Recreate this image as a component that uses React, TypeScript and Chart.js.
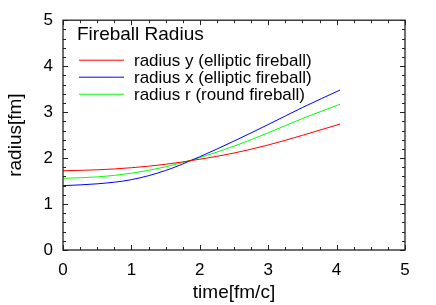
import React, { useEffect, useRef } from "react";
import { Chart, registerables } from "chart.js";

Chart.register(...registerables);

const times = [0, 0.5, 1, 1.5, 2, 2.5, 3, 3.5, 4.05];
const radiusY = [1.725, 1.745, 1.79, 1.865, 1.975, 2.11, 2.285, 2.495, 2.74];
const radiusX = [1.4, 1.44, 1.53, 1.73, 2.03, 2.37, 2.73, 3.1, 3.48];
const radiusR = [1.56, 1.59, 1.67, 1.81, 2.01, 2.26, 2.55, 2.86, 3.17];
const seriesLabels = [
  "radius y (elliptic fireball)",
  "radius x (elliptic fireball)",
  "radius r (round fireball)",
];
const seriesColors = ["#ff0000", "#0000ff", "#00ff00"];
const legendTitle = "Fireball Radius";
const xTitle = "time[fm/c]";
const yTitle = "radius[fm]";
const FONT = "'Liberation Sans', Arial, Helvetica, sans-serif";

const framePlugin = {
  id: "gnuFrame",
  afterDatasetsDraw(chart: any) {
    const { ctx, chartArea, scales } = chart;
    const { left, right, top, bottom } = chartArea;
    const xs = scales.x;
    const ys = scales.y;
    ctx.save();
    ctx.strokeStyle = "#222";
    ctx.lineWidth = 1;
    ctx.beginPath();
    for (let v = 0; v <= 5.0001; v += 0.25) {
      const px = Math.round(xs.getPixelForValue(v)) + 0.5;
      const major = Math.abs(v - Math.round(v)) < 1e-6;
      const len = major ? 5 : 3;
      ctx.moveTo(px, bottom);
      ctx.lineTo(px, bottom - len);
      ctx.moveTo(px, top);
      ctx.lineTo(px, top + len);
    }
    for (let v = 0; v <= 5.0001; v += 0.2) {
      const py = Math.round(ys.getPixelForValue(v)) + 0.5;
      const major = Math.abs(v - Math.round(v)) < 1e-6;
      const len = major ? 5 : 3;
      ctx.moveTo(left, py);
      ctx.lineTo(left + len, py);
      ctx.moveTo(right, py);
      ctx.lineTo(right - len, py);
    }
    ctx.stroke();
    ctx.lineWidth = 1.3;
    ctx.strokeRect(left, top, right - left, bottom - top);
    // legend
    ctx.fillStyle = "#000";
    ctx.textBaseline = "alphabetic";
    ctx.textAlign = "left";
    ctx.font = `19px ${FONT}`;
    ctx.fillText(legendTitle, left + 14, top + 20);
    ctx.font = `17px ${FONT}`;
    chart.data.datasets.forEach((ds: any, i: number) => {
      const y = top + 40 + i * 17;
      ctx.strokeStyle = ds.borderColor;
      ctx.lineWidth = 1;
      ctx.beginPath();
      ctx.moveTo(left + 16, y);
      ctx.lineTo(left + 61, y);
      ctx.stroke();
      ctx.fillText(ds.label, left + 71, y + 5.8);
    });
    ctx.restore();
  },
};

export default function App() {
  const ref = useRef<HTMLCanvasElement>(null);
  useEffect(() => {
    if (!ref.current) return;
    const series = [radiusY, radiusX, radiusR];
    const chart = new Chart(ref.current, {
      type: "line",
      data: {
        datasets: series.map((s, i) => ({
          label: seriesLabels[i],
          data: times.map((t, j) => ({ x: t, y: s[j] })),
          borderColor: seriesColors[i],
          backgroundColor: seriesColors[i],
          borderWidth: 1,
          pointRadius: 0,
          cubicInterpolationMode: "monotone" as const,
          fill: false,
        })),
      },
      plugins: [framePlugin],
      options: {
        animation: false,
        responsive: false,
        maintainAspectRatio: false,
        layout: { padding: { left: 0, right: 31, top: 20, bottom: 0 } },
        plugins: { legend: { display: false }, tooltip: { enabled: false } },
        scales: {
          x: {
            type: "linear",
            min: 0,
            max: 5,
            afterFit: (s: any) => {
              s.height = 55;
            },
            grid: { display: false, drawTicks: false },
            border: { display: false },
            ticks: {
              stepSize: 1,
              color: "#000",
              padding: 10,
              font: { family: FONT, size: 17 },
            },
            title: {
              display: true,
              text: xTitle,
              color: "#000",
              padding: { top: 0, bottom: 1 },
              font: { family: FONT, size: 19 },
            },
          },
          y: {
            type: "linear",
            min: 0,
            max: 5,
            afterFit: (s: any) => {
              s.width = 63;
            },
            grid: { display: false, drawTicks: false },
            border: { display: false },
            ticks: {
              stepSize: 1,
              color: "#000",
              padding: 10,
              font: { family: FONT, size: 17 },
            },
            title: {
              display: true,
              text: yTitle,
              color: "#000",
              padding: { top: 4, bottom: 6 },
              font: { family: FONT, size: 19 },
            },
          },
        },
      },
    });
    return () => chart.destroy();
  }, []);
  return (
    <div style={{ position: "fixed", left: 0, top: 0, width: 436, height: 305, background: "#fff" }}>
      <canvas ref={ref} width={436} height={305} style={{ width: 436, height: 305 }} />
    </div>
  );
}
